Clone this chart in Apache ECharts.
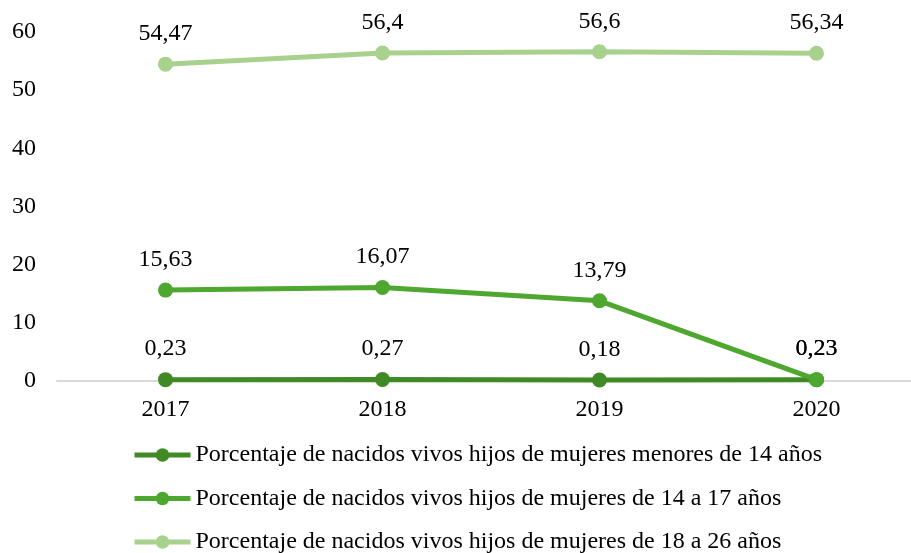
<!DOCTYPE html>
<html>
<head>
<meta charset="utf-8">
<script src="https://cdn.jsdelivr.net/npm/echarts@6/dist/echarts.min.js"></script>
<style>
  html, body { margin: 0; padding: 0; background: #fff; overflow: hidden; }
  #chart { width: 925px; height: 553px; }
</style>
</head>
<body>
<div id="chart"></div>
<script>
const years = ['2017', '2018', '2019', '2020'];
const menores14 = [0.23, 0.27, 0.18, 0.23];
const de14a17 = [15.63, 16.07, 13.79, 0.23];
const de18a26 = [54.47, 56.4, 56.6, 56.34];
const yTicks = [0, 10, 20, 30, 40, 50, 60];

const seriesDefs = [
  { name: 'Porcentaje de nacidos vivos hijos de mujeres menores de 14 años', data: menores14, color: '#3f8a24' },
  { name: 'Porcentaje de nacidos vivos hijos de mujeres de 14 a 17 años', data: de14a17, color: '#4ea72e' },
  { name: 'Porcentaje de nacidos vivos hijos de mujeres de 18 a 26 años', data: de18a26, color: '#a9d18e' },
];

const font = '"Liberation Serif", "Times New Roman", serif';

// chart is a bit wider than the window so the last band runs off the right edge, like the source
const chart = echarts.init(document.getElementById('chart'), null, { renderer: 'canvas' });

chart.setOption({
  backgroundColor: '#fff',
  animation: false,
  textStyle: { fontFamily: font },
  grid: { left: 57, top: 32, right: 0, bottom: 172, containLabel: false },
  legend: {
    orient: 'vertical',
    left: 132,
    top: 443,
    height: 112,
    padding: 0,
    itemWidth: 56,
    itemHeight: 17,
    itemGap: 19.5,
    lineStyle: { width: 5 },
    textStyle: { color: '#000', fontSize: 24, fontFamily: font },
    data: seriesDefs.map((s) => s.name),
  },
  xAxis: {
    type: 'category',
    data: years,
    boundaryGap: true,
    axisLine: { lineStyle: { color: '#d9d9d9', width: 2 } },
    axisTick: { show: false },
    axisLabel: { color: '#000', fontSize: 24, margin: 17, fontFamily: font },
    splitLine: { show: false },
  },
  yAxis: {
    type: 'value',
    min: yTicks[0],
    max: yTicks[yTicks.length - 1],
    interval: 10,
    axisLine: { show: false },
    axisTick: { show: false },
    splitLine: { show: false },
    axisLabel: { color: '#000', fontSize: 24, margin: 21, fontFamily: font },
  },
  series: seriesDefs.map((s) => ({
    name: s.name,
    type: 'line',
    data: s.data,
    symbol: 'circle',
    symbolSize: 15,
    showSymbol: true,
    itemStyle: { color: s.color },
    lineStyle: { color: s.color, width: 5 },
    label: {
      show: true,
      position: 'top',
      distance: 11,
      color: '#000',
      fontSize: 24,
      fontFamily: font,
      formatter: (p) => String(p.value).replace('.', ','),
    },
  })),
});
</script>
</body>
</html>
